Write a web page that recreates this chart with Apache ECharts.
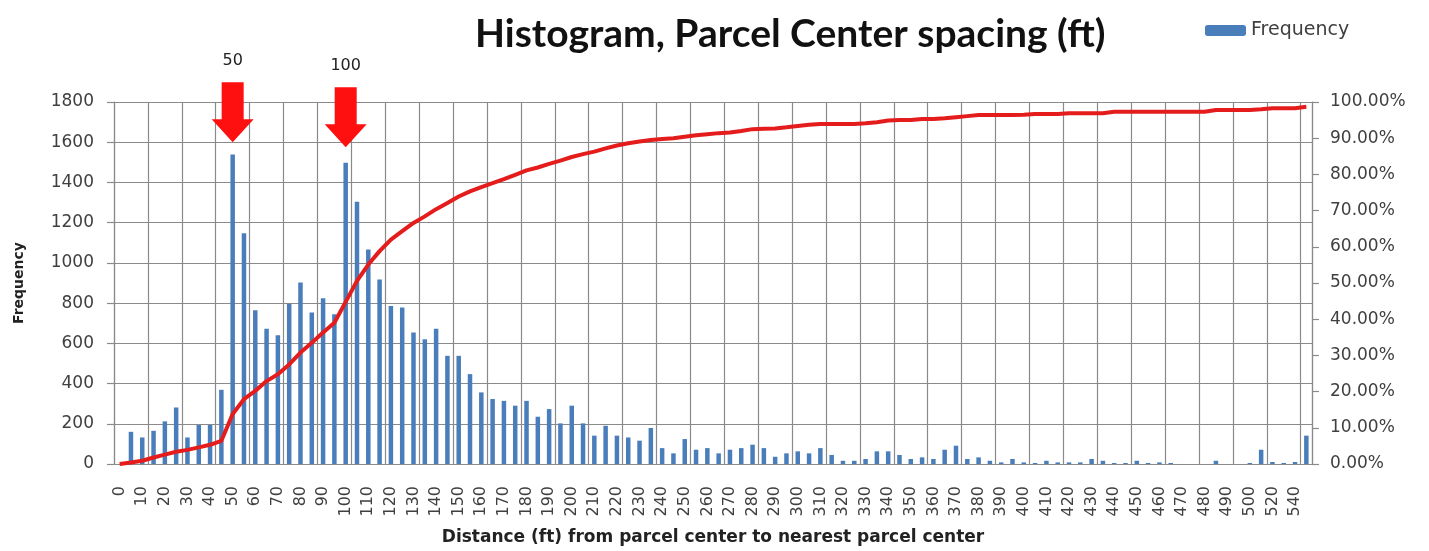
<!DOCTYPE html>
<html>
<head>
<meta charset="utf-8">
<script src="https://cdn.jsdelivr.net/npm/echarts@6/dist/echarts.min.js"></script>
<style>
  html, body { margin: 0; padding: 0; background: #fff; }
  #chart { width: 1429px; height: 551px; }
</style>
</head>
<body>
<div id="chart"></div>
<script>
// bins (ft), every second one gets a label
const bins = [
  '0', '5', '10', '15', '20', '25', '30', '35', '40', '45',
  '50', '55', '60', '65', '70', '75', '80', '85', '90', '95',
  '100', '105', '110', '115', '120', '125', '130', '135', '140', '145',
  '150', '155', '160', '165', '170', '175', '180', '185', '190', '195',
  '200', '205', '210', '215', '220', '225', '230', '235', '240', '245',
  '250', '255', '260', '265', '270', '275', '280', '285', '290', '295',
  '300', '305', '310', '315', '320', '325', '330', '335', '340', '345',
  '350', '355', '360', '365', '370', '375', '380', '385', '390', '395',
  '400', '405', '410', '415', '420', '425', '430', '435', '440', '445',
  '450', '455', '460', '465', '470', '475', '480', '485', '490', '495',
  '500', '510', '520', '530', '540', 'More'
]

const frequency = [
  0, 160, 132, 165, 212, 281, 132, 194, 194, 369,
  1539, 1147, 764, 673, 640, 797, 902, 753, 824, 745,
  1498, 1304, 1067, 918, 786, 778, 654, 620, 673, 538,
  538, 447, 356, 323, 314, 290, 314, 235, 273, 202,
  290, 202, 141, 190, 141, 132, 116, 179, 79, 53,
  124, 71, 79, 53, 71, 79, 96, 79, 36, 53,
  63, 53, 79, 45, 16, 16, 25, 63, 63, 45,
  25, 33, 25, 71, 91, 25, 33, 16, 8, 25,
  8, 5, 16, 8, 8, 8, 25, 16, 5, 5,
  16, 5, 8, 5, 0, 0, 0, 16, 0, 0,
  5, 71, 10, 5, 10, 141
]

// cumulative %
const cumulative = [
  0, 0.4, 0.9, 1.8, 2.6, 3.4, 3.9, 4.6, 5.3, 6.4,
  13.8, 17.9, 20.2, 22.9, 24.8, 27.5, 30.8, 33.5, 36.3, 39.0,
  44.8, 50.6, 55.1, 58.8, 62.0, 64.3, 66.6, 68.4, 70.4, 72.1,
  73.9, 75.3, 76.5, 77.6, 78.7, 79.9, 81.1, 81.9, 82.9, 83.8,
  84.8, 85.6, 86.3, 87.2, 88.0, 88.6, 89.1, 89.5, 89.8, 90.0,
  90.4, 90.8, 91.1, 91.4, 91.6, 92.0, 92.5, 92.6, 92.7, 93.0,
  93.4, 93.7, 93.9, 93.9, 93.9, 93.9, 94.1, 94.4, 94.9, 95.0,
  95.0, 95.3, 95.3, 95.5, 95.8, 96.1, 96.4, 96.4, 96.4, 96.4,
  96.5, 96.7, 96.7, 96.7, 96.9, 96.9, 96.9, 96.9, 97.3, 97.3,
  97.3, 97.3, 97.3, 97.3, 97.3, 97.3, 97.3, 97.8, 97.8, 97.8,
  97.8, 98.0, 98.3, 98.3, 98.3, 98.7
]

// arrows above the two peaks: [bin index, tip value, label]
const arrows = [
  [10, 1600, '50'],
  [20, 1575, '100']
]

const gridColor = '#8a8a8a'
const textColor = '#404040'
const tickFont = 'DejaVu Sans'
const headFont = 'Lato'

const chart = echarts.init(document.getElementById('chart'))

const option = {
  animation: false,
  backgroundColor: '#fff',
  title: {
    text: 'Histogram, Parcel Center spacing (ft)',
    left: 470,
    top: 10,
    textStyle: {
      fontFamily: headFont,
      fontWeight: 'bold',
      fontSize: 39,
      color: '#111'
    }
  },
  legend: {
    data: ['Frequency'],
    left: 1200,
    top: 16,
    itemWidth: 41,
    itemHeight: 11,
    itemGap: 6,
    textStyle: {
      fontFamily: tickFont,
      fontSize: 19,
      color: textColor
    }
  },
  grid: {
    left: 114,
    right: 117,
    top: 102,
    bottom: 86
  },
  xAxis: {
    type: 'category',
    data: bins,
    boundaryGap: true,
    name: 'Distance (ft) from parcel center to nearest parcel center',
    nameLocation: 'middle',
    nameGap: 65,
    nameTextStyle: {
      fontFamily: tickFont,
      fontWeight: 'bold',
      fontSize: 17,
      color: '#222'
    },
    axisLine: { lineStyle: { color: gridColor, width: 1.2 } },
    axisTick: {
      interval: 2,
      length: 9,
      lineStyle: { color: gridColor, width: 1.2 }
    },
    axisLabel: {
      interval: 1,
      rotate: 90,
      margin: 22,
      fontFamily: tickFont,
      fontSize: 16,
      color: textColor
    },
    splitLine: {
      show: true,
      interval: 2,
      lineStyle: { color: gridColor, width: 1.2 }
    }
  },
  yAxis: [
    {
      type: 'value',
      min: 0,
      max: 1800,
      interval: 200,
      name: 'Frequency',
      nameLocation: 'middle',
      nameGap: 88,
      nameTextStyle: {
        fontFamily: tickFont,
        fontWeight: 'bold',
        fontSize: 14,
        color: '#222'
      },
      axisLine: { show: true, lineStyle: { color: gridColor, width: 1.2 } },
      axisTick: { show: true, length: 7, lineStyle: { color: gridColor, width: 1.2 } },
      axisLabel: {
        margin: 20,
        fontFamily: tickFont,
        fontSize: 17,
        color: textColor,
        formatter: v => String(v)
      },
      splitLine: { lineStyle: { color: gridColor, width: 1.2 } }
    },
    {
      type: 'value',
      min: 0,
      max: 100,
      interval: 10,
      position: 'right',
      axisLine: { show: true, lineStyle: { color: gridColor, width: 1.2 } },
      axisTick: { show: true, length: 7, lineStyle: { color: gridColor, width: 1.2 } },
      axisLabel: {
        margin: 18,
        fontFamily: tickFont,
        fontSize: 17,
        color: textColor,
        formatter: v => v.toFixed(2) + '%'
      },
      splitLine: { show: false }
    }
  ],
  series: [
    {
      name: 'Frequency',
      type: 'bar',
      data: frequency,
      barWidth: 4.5,
      itemStyle: { color: '#4a7ebb' },
      markPoint: {
        symbol: 'path://M10 0L32 0L32 37L42 37L21 60L0 37L10 37Z',
        symbolSize: [42, 60],
        symbolOffset: [0, '-50%'],
        itemStyle: { color: '#ff1010' },
        label: {
          show: true,
          position: 'top',
          distance: 13,
          formatter: p => p.name,
          fontFamily: tickFont,
          fontSize: 16,
          color: '#222'
        },
        data: arrows.map(a => ({ name: a[2], coord: [a[0], a[1]] }))
      }
    },
    {
      name: 'Cumulative %',
      type: 'line',
      yAxisIndex: 1,
      data: cumulative,
      showSymbol: false,
      lineStyle: { color: '#e41c1c', width: 4 },
      itemStyle: { color: '#e41c1c' },
      z: 5
    }
  ]
}

chart.setOption(option)
</script>
</body>
</html>
